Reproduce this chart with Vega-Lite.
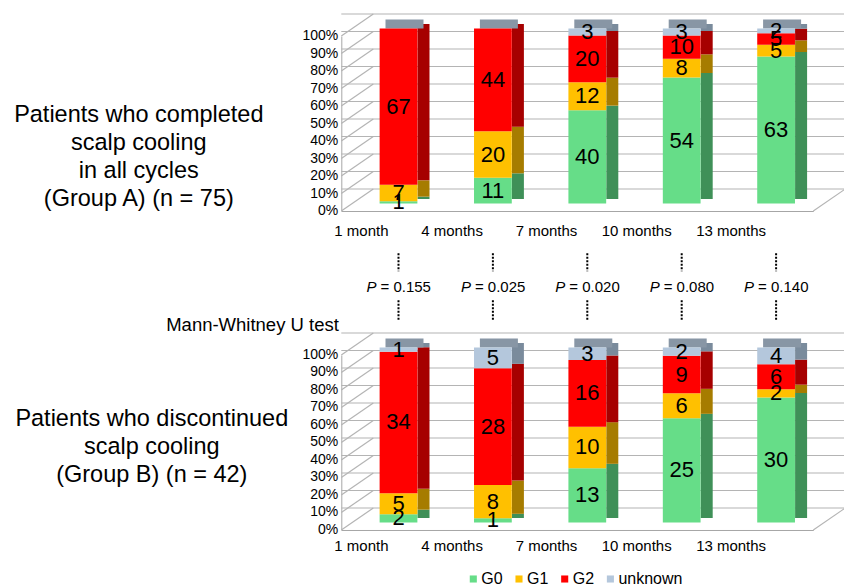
{
"$schema":"https://vega.github.io/schema/vega-lite/v6.json",
"padding":{"left":13.3,"top":13,"right":0,"bottom":0},
"bounds":"flush",
"spacing":0,
"resolve":{"legend":{"color":"independent"}},
"config":{"font":"Liberation Sans","view":{"stroke":null},
  "axisY":{"labels":false,"ticks":false,"grid":false,"domainColor":"#a6a6a6"}},
"datasets":{
 "a":[
  {"month":"1 month","grade":"G0","n":1},{"month":"1 month","grade":"G1","n":7},{"month":"1 month","grade":"G2","n":67},{"month":"1 month","grade":"unknown","n":0},
  {"month":"4 months","grade":"G0","n":11},{"month":"4 months","grade":"G1","n":20},{"month":"4 months","grade":"G2","n":44},{"month":"4 months","grade":"unknown","n":0},
  {"month":"7 months","grade":"G0","n":40},{"month":"7 months","grade":"G1","n":12},{"month":"7 months","grade":"G2","n":20},{"month":"7 months","grade":"unknown","n":3},
  {"month":"10 months","grade":"G0","n":54},{"month":"10 months","grade":"G1","n":8},{"month":"10 months","grade":"G2","n":10},{"month":"10 months","grade":"unknown","n":3},
  {"month":"13 months","grade":"G0","n":63},{"month":"13 months","grade":"G1","n":5},{"month":"13 months","grade":"G2","n":5},{"month":"13 months","grade":"unknown","n":2}],
 "b":[
  {"month":"1 month","grade":"G0","n":2},{"month":"1 month","grade":"G1","n":5},{"month":"1 month","grade":"G2","n":34},{"month":"1 month","grade":"unknown","n":1},
  {"month":"4 months","grade":"G0","n":1},{"month":"4 months","grade":"G1","n":8},{"month":"4 months","grade":"G2","n":28},{"month":"4 months","grade":"unknown","n":5},
  {"month":"7 months","grade":"G0","n":13},{"month":"7 months","grade":"G1","n":10},{"month":"7 months","grade":"G2","n":16},{"month":"7 months","grade":"unknown","n":3},
  {"month":"10 months","grade":"G0","n":25},{"month":"10 months","grade":"G1","n":6},{"month":"10 months","grade":"G2","n":9},{"month":"10 months","grade":"unknown","n":2},
  {"month":"13 months","grade":"G0","n":30},{"month":"13 months","grade":"G1","n":2},{"month":"13 months","grade":"G2","n":6},{"month":"13 months","grade":"unknown","n":4}],
 "pv":[
  {"month":"1 month","p":"= 0.155"},{"month":"4 months","p":"= 0.025"},{"month":"7 months","p":"= 0.020"},{"month":"10 months","p":"= 0.080"},{"month":"13 months","p":"= 0.140"}],
 "ticks":[{"v":0},{"v":0.1},{"v":0.2},{"v":0.3},{"v":0.4},{"v":0.5},{"v":0.6},{"v":0.7},{"v":0.8},{"v":0.9},{"v":1}]
},
"vconcat":[
 {
  "width":472,"height":175,
  "data":{"name":"a"},
  "layer":[
   {"data":{"name":"ticks"},"mark":{"type":"rule","color":"#b4b4b4","strokeWidth":1.2,"xOffset":32,"x2Offset":32,"yOffset":-22},
    "encoding":{"y":{"field":"v","type":"quantitative","scale":{"domain":[0,1]},
      "axis":{"title":["Patients who completed","scalp cooling","in all cycles","(Group A) (n = 75)"],"titleAngle":0,"titleAlign":"center","titleBaseline":"middle","titleX":-203,"titleY":78.3,"titleFontSize":23.5,"titleFontWeight":"normal","titleLineHeight":28,"titleColor":"black"}}}},
   {"data":{"name":"ticks"},"mark":{"type":"rule","color":"#b4b4b4","strokeWidth":1.2,"x2Offset":32,"y2Offset":-22},
    "encoding":{"x":{"datum":"1 month","type":"nominal","bandPosition":-0.75,"scale":{"domain":["1 month","4 months","7 months","10 months","13 months"],"paddingInner":0.6,"paddingOuter":0.3}},
     "x2":{"datum":"1 month","bandPosition":-0.75},
     "y":{"field":"v","type":"quantitative"},"y2":{"field":"v"}}},
   {"data":{"name":"ticks"},"transform":[{"filter":"datum.v == 0"}],"mark":{"type":"rule","color":"#b4b4b4","strokeWidth":1.2,"x2Offset":32,"y2Offset":-22},
    "encoding":{"x":{"datum":"13 months","type":"nominal","bandPosition":1.75},
     "x2":{"datum":"13 months","bandPosition":1.75},
     "y":{"field":"v","type":"quantitative"},"y2":{"field":"v"}}},
   {"data":{"name":"ticks"},"mark":{"type":"text","align":"right","baseline":"middle","fontSize":14,"color":"black"},
    "encoding":{"x":{"datum":"1 month","type":"nominal","bandPosition":-0.83},
     "y":{"field":"v","type":"quantitative"},
     "text":{"field":"v","type":"quantitative","format":".0%"}}},
   {"mark":{"type":"bar","width":12,"xOffset":35,"x2Offset":35,"yOffset":-12,"y2Offset":-12},
    "encoding":{"x":{"field":"month","type":"nominal","scale":{"domain":["1 month","4 months","7 months","10 months","13 months"],"paddingInner":0.6,"paddingOuter":0.3}},
     "y":{"field":"n","type":"quantitative","stack":"normalize"},
     "fill":{"field":"grade","type":"nominal","scale":{"domain":["G0","G1","G2","unknown"],"range":["#3f9058","#a67c00","#a60000","#7a8b9c"]},"legend":null},
     "order":{"field":"grade"}}},
   {"transform":[{"filter":"datum.grade == 'G0'"}],"mark":{"type":"tick","thickness":9,"xOffset":16,"yOffset":-12,"color":"#8896a5","opacity":1},
    "encoding":{"x":{"field":"month","type":"nominal"},"y":{"datum":1,"type":"quantitative"},"size":{"value":38}}},
   {"mark":{"type":"bar","xOffset":10,"x2Offset":10,"yOffset":-7.5,"y2Offset":-7.5},
    "encoding":{"x":{"field":"month","type":"nominal","scale":{"domain":["1 month","4 months","7 months","10 months","13 months"],"paddingInner":0.6,"paddingOuter":0.3},
      "axis":{"title":null,"bandPosition":0.5,"labelAngle":0,"labelFontSize":15,"labelPadding":19,"ticks":false,"domainColor":"#a6a6a6","labelColor":"black"}},
     "y":{"field":"n","type":"quantitative","stack":"normalize"},
     "color":{"field":"grade","type":"nominal","scale":{"domain":["G0","G1","G2","unknown"],"range":["#66dd88","#ffc000","#ff0000","#b4c7dc"]},"legend":null},
     "order":{"field":"grade"}}},
   {"transform":[{"filter":"datum.n > 0"}],"mark":{"type":"text","xOffset":10,"yOffset":-7.5,"fontSize":22,"color":"black","baseline":"middle"},
    "encoding":{"x":{"field":"month","type":"nominal"},
     "y":{"field":"n","type":"quantitative","stack":"normalize","bandPosition":0.5},
     "detail":{"field":"grade"},"order":{"field":"grade"},
     "text":{"field":"n"}}}
  ]
 },
 {
  "width":472,"height":143.3,
  "data":{"name":"pv"},
  "layer":[
   {"mark":{"type":"rule","xOffset":10,"strokeDash":[2,1.5],"strokeWidth":2,"color":"black"},
    "encoding":{"x":{"field":"month","type":"nominal","scale":{"domain":["1 month","4 months","7 months","10 months","13 months"],"paddingInner":0.6,"paddingOuter":0.3},"axis":null},
     "y":{"datum":0.295,"type":"quantitative","scale":{"domain":[0,1],"reverse":true},
      "axis":{"title":"Mann-Whitney U test","titleAngle":0,"titleAlign":"right","titleBaseline":"middle","titleX":-3,"titleY":113.3,"titleFontSize":18.5,"titleFontWeight":"normal","titleColor":"black","labels":false,"ticks":false,"domain":false,"grid":false}},
     "y2":{"datum":0.421}}},
   {"mark":{"type":"rule","xOffset":10,"strokeDash":[2,1.5],"strokeWidth":2,"color":"black"},
    "encoding":{"x":{"field":"month","type":"nominal"},"y":{"datum":0.623,"type":"quantitative"},"y2":{"datum":0.763}}},
   {"mark":{"type":"text","xOffset":-12,"align":"right","baseline":"middle","fontSize":15,"fontStyle":"italic","color":"black"},
    "encoding":{"x":{"field":"month","type":"nominal"},"y":{"datum":0.532,"type":"quantitative"},"text":{"value":"P"}}},
   {"mark":{"type":"text","xOffset":-8,"align":"left","baseline":"middle","fontSize":15,"color":"black"},
    "encoding":{"x":{"field":"month","type":"nominal"},"y":{"datum":0.532,"type":"quantitative"},"text":{"field":"p"}}}
  ]
 },
 {
  "width":472,"height":175,
  "data":{"name":"b"},
  "layer":[
   {"data":{"name":"ticks"},"mark":{"type":"rule","color":"#b4b4b4","strokeWidth":1.2,"xOffset":32,"x2Offset":32,"yOffset":-22},
    "encoding":{"y":{"field":"v","type":"quantitative","scale":{"domain":[0,1]},
      "axis":{"title":["Patients who discontinued","scalp cooling","(Group B) (n = 42)"],"titleAngle":0,"titleAlign":"center","titleBaseline":"middle","titleX":-190,"titleY":64,"titleFontSize":23.5,"titleFontWeight":"normal","titleLineHeight":28,"titleColor":"black"}}}},
   {"data":{"name":"ticks"},"mark":{"type":"rule","color":"#b4b4b4","strokeWidth":1.2,"x2Offset":32,"y2Offset":-22},
    "encoding":{"x":{"datum":"1 month","type":"nominal","bandPosition":-0.75,"scale":{"domain":["1 month","4 months","7 months","10 months","13 months"],"paddingInner":0.6,"paddingOuter":0.3}},
     "x2":{"datum":"1 month","bandPosition":-0.75},
     "y":{"field":"v","type":"quantitative"},"y2":{"field":"v"}}},
   {"data":{"name":"ticks"},"transform":[{"filter":"datum.v == 0"}],"mark":{"type":"rule","color":"#b4b4b4","strokeWidth":1.2,"x2Offset":32,"y2Offset":-22},
    "encoding":{"x":{"datum":"13 months","type":"nominal","bandPosition":1.75},
     "x2":{"datum":"13 months","bandPosition":1.75},
     "y":{"field":"v","type":"quantitative"},"y2":{"field":"v"}}},
   {"data":{"name":"ticks"},"mark":{"type":"text","align":"right","baseline":"middle","fontSize":14,"color":"black"},
    "encoding":{"x":{"datum":"1 month","type":"nominal","bandPosition":-0.83},
     "y":{"field":"v","type":"quantitative"},
     "text":{"field":"v","type":"quantitative","format":".0%"}}},
   {"mark":{"type":"bar","width":12,"xOffset":35,"x2Offset":35,"yOffset":-12,"y2Offset":-12},
    "encoding":{"x":{"field":"month","type":"nominal","scale":{"domain":["1 month","4 months","7 months","10 months","13 months"],"paddingInner":0.6,"paddingOuter":0.3}},
     "y":{"field":"n","type":"quantitative","stack":"normalize"},
     "fill":{"field":"grade","type":"nominal","scale":{"domain":["G0","G1","G2","unknown"],"range":["#3f9058","#a67c00","#a60000","#7a8b9c"]},"legend":null},
     "order":{"field":"grade"}}},
   {"transform":[{"filter":"datum.grade == 'G0'"}],"mark":{"type":"tick","thickness":9,"xOffset":16,"yOffset":-12,"color":"#8896a5","opacity":1},
    "encoding":{"x":{"field":"month","type":"nominal"},"y":{"datum":1,"type":"quantitative"},"size":{"value":38}}},
   {"mark":{"type":"bar","xOffset":10,"x2Offset":10,"yOffset":-7.5,"y2Offset":-7.5},
    "encoding":{"x":{"field":"month","type":"nominal","scale":{"domain":["1 month","4 months","7 months","10 months","13 months"],"paddingInner":0.6,"paddingOuter":0.3},
      "axis":{"title":null,"bandPosition":0.5,"labelAngle":0,"labelFontSize":15,"labelPadding":16,"ticks":false,"domainColor":"#a6a6a6","labelColor":"black"}},
     "y":{"field":"n","type":"quantitative","stack":"normalize"},
     "color":{"field":"grade","type":"nominal","scale":{"domain":["G0","G1","G2","unknown"],"range":["#66dd88","#ffc000","#ff0000","#b4c7dc"]},
      "legend":{"title":null,"orient":"none","legendX":124,"legendY":216,"direction":"horizontal","symbolType":"square","symbolSize":50,"symbolStrokeWidth":0,"labelFontSize":16,"labelOffset":0,"columnPadding":7.7,"labelColor":"black","padding":0}},
     "order":{"field":"grade"}}},
   {"transform":[{"filter":"datum.n > 0"}],"mark":{"type":"text","xOffset":10,"yOffset":-7.5,"fontSize":22,"color":"black","baseline":"middle"},
    "encoding":{"x":{"field":"month","type":"nominal"},
     "y":{"field":"n","type":"quantitative","stack":"normalize","bandPosition":0.5},
     "detail":{"field":"grade"},"order":{"field":"grade"},
     "text":{"field":"n"}}}
  ]
 }
]
}
